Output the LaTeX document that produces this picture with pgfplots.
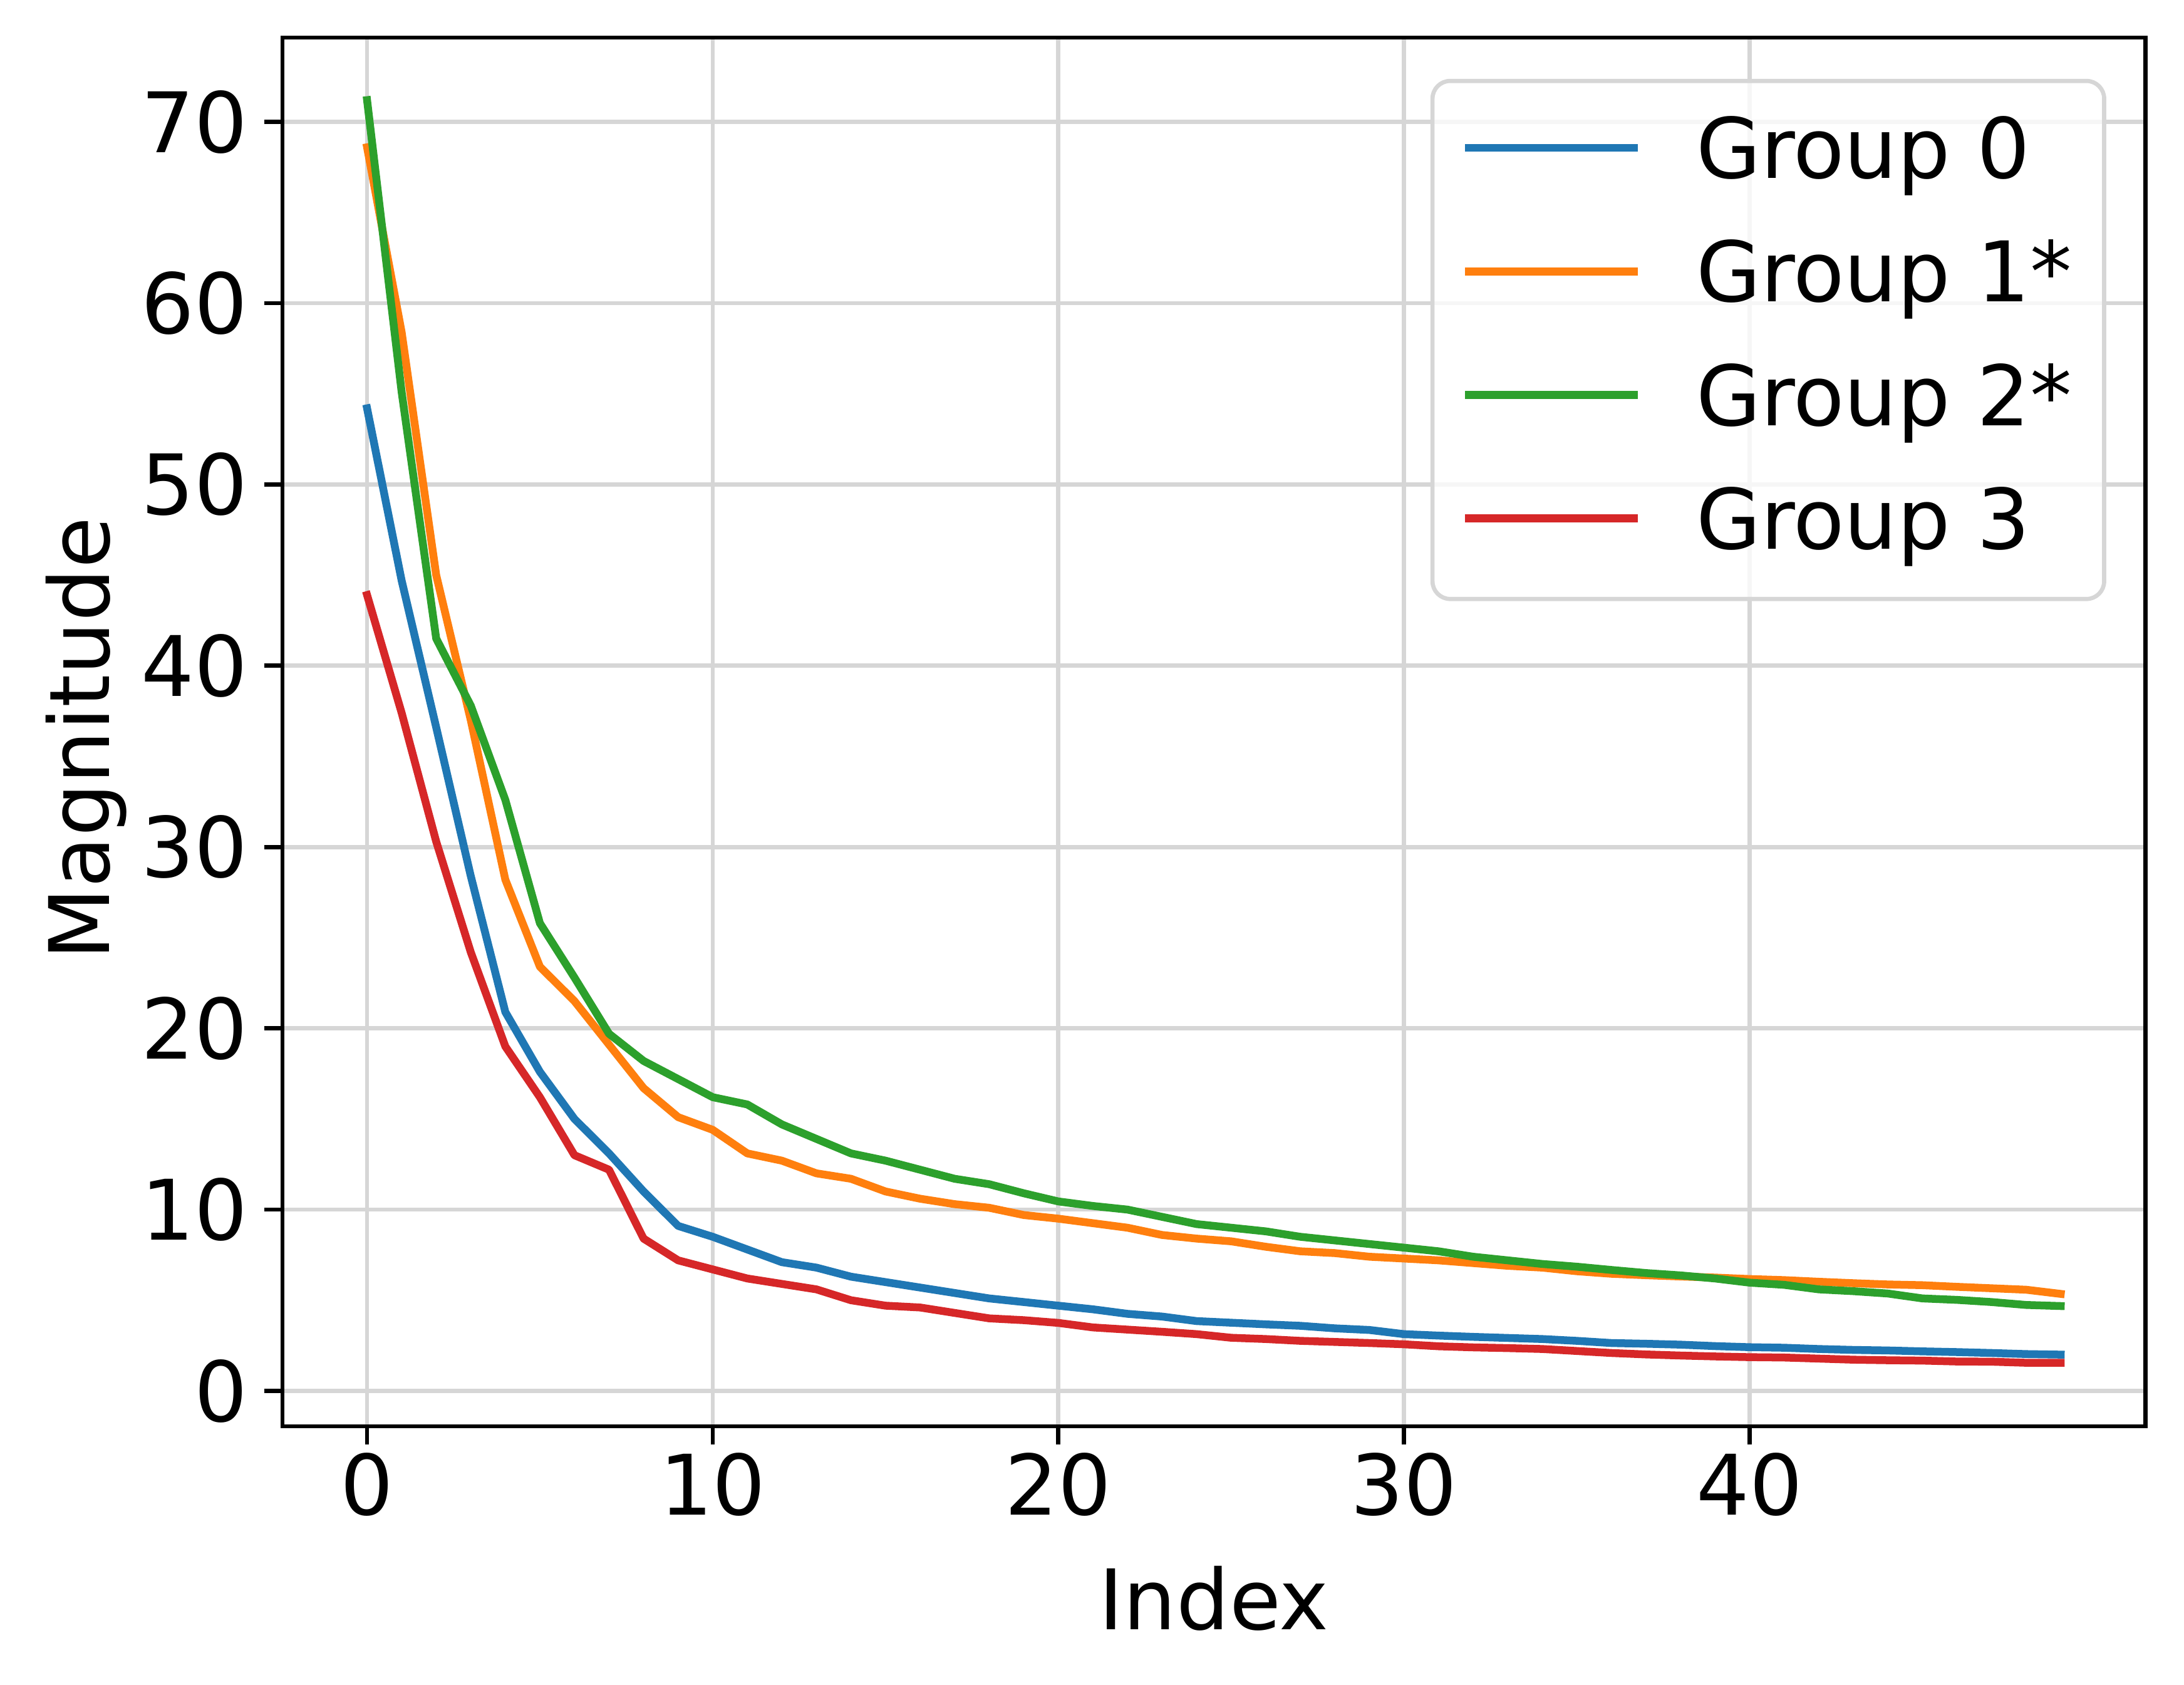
\documentclass[border=0pt]{standalone}
\usepackage{fontspec}
\setmainfont{DejaVu Sans}
\usepackage{pgfplots}
\pgfplotsset{compat=1.18}
\usepackage{pgfplotstable}
\definecolor{c0}{HTML}{1F77B4}
\definecolor{c1}{HTML}{FF7F0E}
\definecolor{c2}{HTML}{2CA02C}
\definecolor{c3}{HTML}{D62728}
\definecolor{gridc}{RGB}{214,214,214}
\newcommand\cf{\fontsize{16bp}{19.2bp}\selectfont}

\pgfplotstableread{
i g0 g1 g2 g3
0 54.2 68.6 71.2 43.9
1 44.7 58.4 55.1 37.4
2 36.6 45.0 41.5 30.3
3 28.4 37.0 37.8 24.2
4 20.9 28.2 32.6 19.0
5 17.6 23.4 25.8 16.2
6 15.0 21.5 22.8 13.0
7 13.1 19.1 19.7 12.2
8 11.0 16.7 18.2 8.4
9 9.1 15.1 17.2 7.2
10 8.5 14.4 16.2 6.7
11 7.8 13.1 15.8 6.2
12 7.1 12.7 14.7 5.9
13 6.8 12.0 13.9 5.6
14 6.3 11.7 13.1 5.0
15 6.0 11.0 12.7 4.7
16 5.7 10.6 12.2 4.6
17 5.4 10.3 11.7 4.3
18 5.1 10.1 11.4 4.0
19 4.9 9.7 10.9 3.9
20 4.7 9.5 10.45 3.75
21 4.5 9.25 10.2 3.5
22 4.25 9.0 10.0 3.38
23 4.1 8.6 9.6 3.26
24 3.85 8.4 9.2 3.13
25 3.76 8.25 9.0 2.93
26 3.67 7.95 8.8 2.86
27 3.59 7.7 8.5 2.76
28 3.45 7.6 8.3 2.7
29 3.36 7.4 8.1 2.64
30 3.13 7.3 7.9 2.57
31 3.05 7.2 7.7 2.46
32 2.98 7.05 7.4 2.4
33 2.92 6.9 7.2 2.36
34 2.86 6.8 7.0 2.31
35 2.76 6.6 6.85 2.2
36 2.64 6.46 6.67 2.09
37 2.6 6.38 6.5 2.01
38 2.55 6.31 6.37 1.95
39 2.47 6.25 6.2 1.9
40 2.41 6.17 5.97 1.86
41 2.38 6.11 5.85 1.84
42 2.31 6.02 5.6 1.78
43 2.26 5.94 5.5 1.72
44 2.23 5.87 5.37 1.69
45 2.18 5.83 5.1 1.67
46 2.14 5.74 5.02 1.62
47 2.09 5.66 4.9 1.61
48 2.03 5.58 4.74 1.55
49 2.0 5.35 4.68 1.55
}\datatable

\begin{document}
\begin{tikzpicture}
\useasboundingbox (-54.1bp,-49.5bp) rectangle (364.3bp,273.2bp);
\begin{axis}[
  at={(0,0)}, anchor=south west,
  scale only axis,
  width=356.9bp, height=266bp,
  xmin=-2.45, xmax=51.45,
  ymin=-1.95, ymax=74.65,
  xtick={0,10,20,30,40},
  ytick={0,10,20,30,40,50,60,70},
  tick pos=left,
  tick align=outside,
  major tick length=3.5bp,
  every tick/.style={black, line width=0.8bp},
  axis line style={black, line width=0.8bp},
  grid=major,
  major grid style={gridc, line width=0.8bp},
  /pgf/number format/assume math mode=true,
  tick label style={font=\cf},
  xticklabel style={anchor=north, inner sep=0pt, text height=11.66bp, text depth=0pt, yshift=-1.6bp},
  yticklabel style={anchor=east, inner sep=0pt, text height=11.66bp, text depth=0pt, xshift=-3.0bp},
  every axis x label/.style={at={(axis description cs:0.5,0)}, anchor=north, inner sep=0pt, text height=11.66bp, text depth=0pt, yshift=-27.1bp, font=\cf},
  every axis y label/.style={at={(axis description cs:0,0.5)}, xshift=-45bp, yshift=-1.3bp, rotate=90, anchor=north, inner sep=0pt, text height=11.66bp, text depth=0pt, font=\cf},
  xlabel={Index},
  ylabel={Magnitude},
  legend cell align=left,
  legend image code/.code={\draw[#1] (0.75bp,1.3bp) -- (32.35bp,1.3bp); \path[draw=none,fill=none] (0bp,0bp) -- (44.3bp,0bp);},
  legend style={at={(1,1)}, anchor=north east, xshift=-7.5bp, yshift=-7.9bp,
    draw=gridc, line width=0.8bp, rounded corners=3.4bp,
    fill=white, fill opacity=0.8, text opacity=1, draw opacity=1,
    inner xsep=6.2bp, inner ysep=7bp, row sep=9.4bp,
    nodes={inner sep=0pt, text height=11.66bp, text depth=2.6bp},
    font=\cf},
  every axis plot/.append style={line width=1.5bp, line join=round, line cap=rect},
]
\addplot[c0] table[x=i, y=g0] {\datatable};
\addlegendentry{Group 0}
\addplot[c1] table[x=i, y=g1] {\datatable};
\addlegendentry{Group 1*}
\addplot[c2] table[x=i, y=g2] {\datatable};
\addlegendentry{Group 2*}
\addplot[c3] table[x=i, y=g3] {\datatable};
\addlegendentry{Group 3}
\end{axis}
\end{tikzpicture}
\end{document}
